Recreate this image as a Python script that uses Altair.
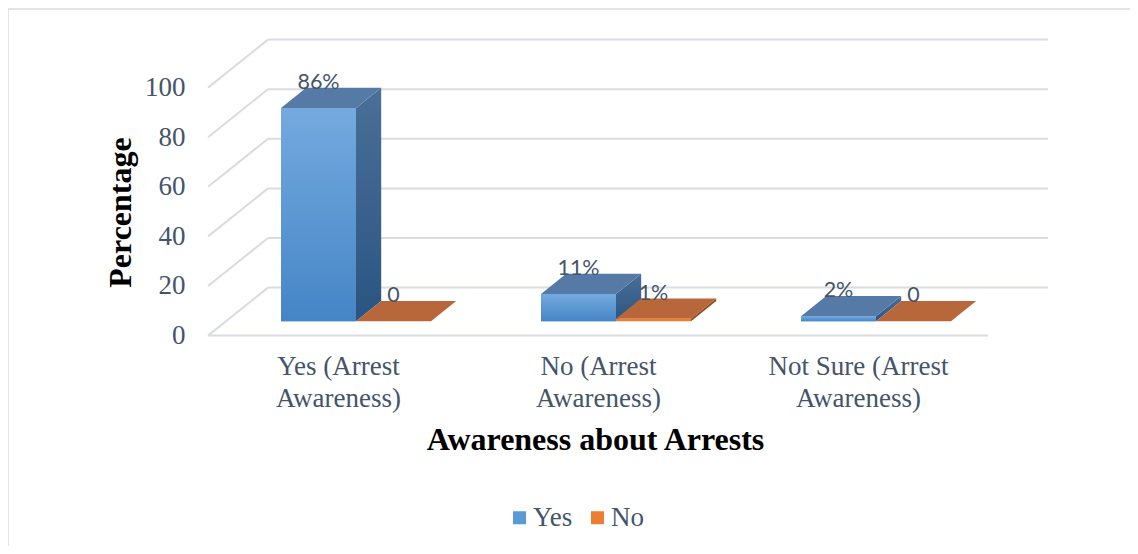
import json
import altair as alt
import pandas as pd

# ---------------- data ----------------
categories = ["Yes (Arrest Awareness)", "No (Arrest Awareness)", "Not Sure (Arrest Awareness)"]
series = ["Yes", "No"]
yes_values = [86, 11, 2]
no_values = [0, 1, 0]
yes_labels = ["86%", "11%", "2%"]
no_labels = ["0", "1%", "0"]
y_ticks = [0, 20, 40, 60, 80, 100]

# ---------------- 3D projection parameters (data units) ----------------
PX_X = 260.0          # pixels per category
PX_Y = 2.48           # pixels per percentage point
DX = 60 / PX_X        # full depth shift along x (category units)
DY = 48 / PX_Y        # full depth shift along y (value units)
D_FRONT, D_BACK = 0.3, 0.72
W = 75 / PX_X         # bar width
S = 0.5 - W           # first bar start inside a category
Y_MAX = 120
X_MAX = len(categories) + DX

fronts, sides, tops, labels = [], [], [], []
for i, cat in enumerate(categories):
    for j, (ser, vals, labs) in enumerate([("Yes", yes_values, yes_labels), ("No", no_values, no_labels)]):
        v = vals[i]
        xl = i + S + j * W
        xr = xl + W
        fid = f"{ser}-{i}"
        fronts.append(dict(series=ser, x=xl + D_FRONT * DX, x2=xr + D_FRONT * DX,
                           y=D_FRONT * DY, y2=v + D_FRONT * DY))
        for d in (D_FRONT, D_BACK):
            sides.append(dict(series=ser, face=fid, x=xr + d * DX, y=v + d * DY, y2=d * DY))
            tops.append(dict(series=ser, face=fid, y=v + d * DY, x=xl + d * DX, x2=xr + d * DX))
        labels.append(dict(series=ser, x=(xl + xr) / 2 + D_FRONT * DX, y=v + D_BACK * DY, text=labs[i]))

grid = []
for t in y_ticks:
    grid.append(dict(x=DX, x2=X_MAX, y=t + DY, y2=t + DY))
    grid.append(dict(x=0, x2=DX, y=t, y2=t + DY))
grid.append(dict(x=0, x2=len(categories), y=0, y2=0))

fronts = pd.DataFrame(fronts)
sides = pd.DataFrame(sides)
tops = pd.DataFrame(tops)
labels = pd.DataFrame(labels)
grid = pd.DataFrame(grid)

SERIF = "Liberation Serif"
TXT = "#44546a"

lines = [c.rsplit(" ", 1) for c in categories]
label_expr = (f"datum.value < 1 ? {json.dumps(lines[0])} : "
              f"datum.value < 2 ? {json.dumps(lines[1])} : {json.dumps(lines[2])}")

xscale = alt.Scale(domain=[0, X_MAX], nice=False, zero=False)
yscale = alt.Scale(domain=[0, Y_MAX], nice=False, zero=False)

x_axis = alt.Axis(values=[0.5, 1.5, 2.5], labelExpr=label_expr, labelFont=SERIF, labelFontSize=27,
                  labelColor=TXT, labelPadding=18, labelLineHeight=32, domain=False, ticks=False,
                  grid=False, title="Awareness about Arrests", titleFont=SERIF, titleFontSize=32,
                  titleFontWeight="bold", titleColor="black", titleX=387, titleY=104,
                  titleBaseline="middle", titleAlign="center", labelOverlap=False)
y_axis = alt.Axis(values=y_ticks, labelFont=SERIF, labelFontSize=27, labelColor=TXT, labelPadding=23,
                  domain=False, ticks=False, grid=False, title="Percentage", titleFont=SERIF,
                  titleFontSize=32, titleFontWeight="bold", titleColor="black", titleX=-88,
                  titleY=174, titleBaseline="middle", titleAlign="center")

X = alt.X("x:Q", scale=xscale, axis=x_axis)
Y = alt.Y("y:Q", scale=yscale, axis=y_axis)

def grad(top, bottom):
    return alt.Gradient(gradient="linear", x1=0, x2=0, y1=0, y2=1,
                        stops=[alt.GradientStop(color=top, offset=0),
                               alt.GradientStop(color=bottom, offset=1)])

grid_layer = alt.Chart(grid).mark_rule(color="#d9dce1", strokeWidth=2).encode(
    x=X, x2="x2:Q", y=Y, y2="y2:Q",
)

def side_layer(ser, color):
    return alt.Chart(sides).transform_filter(alt.datum.series == ser).mark_area(
        orient="vertical", color=color).encode(x=X, y=Y, y2="y2:Q", detail="face:N")

def top_layer(ser, color):
    return alt.Chart(tops).transform_filter(alt.datum.series == ser).mark_area(
        orient="horizontal", color=color).encode(y=Y, x=X, x2="x2:Q", detail="face:N")

legend = alt.Legend(orient="none", legendX=298, legendY=466, direction="horizontal", title=None,
                    symbolType="square", symbolSize=169, symbolStrokeWidth=0, labelFont=SERIF,
                    labelFontSize=27, labelColor=TXT, labelOffset=0, columnPadding=11)
color_enc = alt.Color("series:N", scale=alt.Scale(domain=series, range=["#5b9bd5", "#ed7d31"]),
                      legend=legend)

def front_layer(ser):
    return alt.Chart(fronts).transform_filter(alt.datum.series == ser).mark_rect().encode(
        x=X, x2="x2:Q", y=Y, y2="y2:Q", color=color_enc)

yes_front_grad = alt.Chart(fronts).transform_filter(alt.datum.series == "Yes").mark_rect(
    color=grad("#74aadf", "#4585c6")).encode(x=X, x2="x2:Q", y=Y, y2="y2:Q")

label_layer = alt.Chart(labels).mark_text(font="Lato", fontSize=21.5, color=TXT, baseline="alphabetic",
                                          align="center", dy=1).encode(x=X, y=Y, text="text:N")

frame = alt.Chart(alt.Data(values=[{}])).mark_rule(color="#e1e4ea", strokeWidth=2)
frame_top = frame.encode(x=alt.value(-200), x2=alt.value(930), y=alt.value(-29), y2=alt.value(-29))
frame_left = frame.encode(x=alt.value(-200), x2=alt.value(-200), y=alt.value(-29), y2=alt.value(520))

chart = alt.layer(
    grid_layer,
    frame_top, frame_left,
    side_layer("Yes", grad("#4a6f98", "#2a5581")),
    top_layer("Yes", "#557aa5"),
    front_layer("Yes"),
    yes_front_grad,
    side_layer("No", "#8f4a20"),
    top_layer("No", "#b8673a"),
    front_layer("No"),
    label_layer,
).properties(
    width=X_MAX * PX_X,
    height=Y_MAX * PX_Y,
    autosize=alt.AutoSizeParams(type="none"),
    padding={"left": 200, "top": 30, "right": 82, "bottom": 210},
    background="white",
).configure_view(stroke=None)

chart.save("out.html", embed_options={"renderer": "svg", "actions": False})
